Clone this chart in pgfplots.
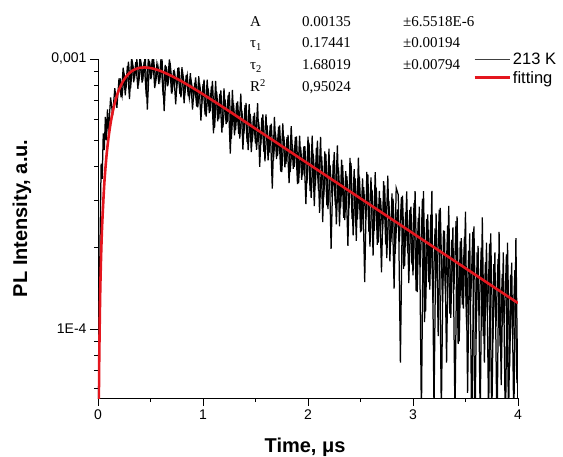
\documentclass[border=0pt]{standalone}
\usepackage{pgfplots}
\pgfplotsset{compat=1.18}
\usepackage{fontspec}
\setmainfont{Liberation Sans}
\newfontfamily\serifT{Liberation Serif}
\definecolor{fitred}{RGB}{228,22,30}

% PL decay at 213 K (time in us, intensity in a.u.)
\pgfplotstableread{
t I
0.00 3.0e-5
0.01 1.00e-4
0.02 2.20e-4
0.03 4.10e-4
0.04 3.60e-4
0.05 5.30e-4
0.06 4.60e-4
0.07 6.10e-4
0.08 5.00e-4
0.09 6.50e-4
0.10 5.40e-4
0.12 7.20e-4
0.14 6.20e-4
0.16 7.80e-4
0.18 6.60e-4
0.20 8.47e-4
0.22 7.22e-4
0.24 9.29e-4
0.26 7.33e-4
0.28 9.41e-4
0.30 7.10e-4
0.32 1.018e-3
0.34 8.20e-4
0.36 9.74e-4
0.38 7.76e-4
0.40 1.021e-3
0.42 8.18e-4
0.44 9.77e-4
0.46 7.26e-4
0.48 1.012e-3
0.50 8.43e-4
0.52 1.033e-3
0.54 7.80e-4
0.56 9.50e-4
0.58 8.08e-4
0.60 1.001e-3
0.62 7.34e-4
0.64 9.50e-4
0.66 7.93e-4
0.68 9.96e-4
0.70 7.45e-4
0.72 9.09e-4
0.74 6.80e-4
0.76 9.26e-4
0.78 7.42e-4
0.80 9.32e-4
0.82 6.86e-4
0.84 8.73e-4
0.86 7.28e-4
0.88 8.86e-4
0.90 6.50e-4
0.92 8.13e-4
0.94 6.66e-4
0.96 8.63e-4
0.98 5.91e-4
1.00 8.07e-4
1.02 6.22e-4
1.04 8.39e-4
1.06 6.30e-4
1.08 7.92e-4
1.10 5.31e-4
1.12 8.29e-4
1.14 5.88e-4
1.16 7.43e-4
1.18 5.34e-4
1.20 7.79e-4
1.22 5.74e-4
1.24 7.35e-4
1.26 4.46e-4
1.28 7.68e-4
1.30 5.22e-4
1.32 6.88e-4
1.34 5.28e-4
1.36 7.44e-4
1.38 4.62e-4
1.40 6.74e-4
1.42 4.92e-4
1.44 6.81e-4
1.46 4.52e-4
1.48 6.14e-4
1.50 4.86e-4
1.52 6.87e-4
1.54 3.99e-4
1.56 6.07e-4
1.58 4.53e-4
1.60 6.24e-4
1.62 4.21e-4
1.64 5.69e-4
1.66 3.31e-4
1.68 6.10e-4
1.70 4.26e-4
1.72 5.62e-4
1.74 3.83e-4
1.76 5.77e-4
1.78 3.97e-4
1.80 5.13e-4
1.82 3.47e-4
1.84 5.64e-4
1.86 3.92e-4
1.88 5.15e-4
1.90 3.44e-4
1.92 5.20e-4
1.94 3.57e-4
1.96 4.74e-4
1.98 2.90e-4
2.00 5.16e-4
2.02 3.24e-4
2.04 5.20e-4
2.06 2.85e-4
2.08 4.69e-4
2.10 3.24e-4
2.12 5.15e-4
2.14 2.49e-4
2.16 4.55e-4
2.18 2.87e-4
2.20 4.66e-4
2.22 1.98e-4
2.24 4.19e-4
2.26 2.88e-4
2.28 4.79e-4
2.30 2.40e-4
2.32 4.24e-4
2.34 2.58e-4
2.36 3.84e-4
2.38 2.03e-4
2.40 4.30e-4
2.42 2.55e-4
2.44 3.91e-4
2.46 2.12e-4
2.48 4.31e-4
2.50 2.28e-4
2.52 3.61e-4
2.54 1.49e-4
2.56 3.82e-4
2.58 2.29e-4
2.60 3.64e-4
2.62 1.87e-4
2.64 3.81e-4
2.66 2.05e-4
2.68 3.25e-4
2.70 1.62e-4
2.72 3.53e-4
2.74 2.06e-4
2.76 3.70e-4
2.78 1.78e-4
2.80 3.18e-4
2.82 1.41e-4
2.84 3.33e-4
2.86 3.14e-4
2.88 0.75e-4
2.90 3.12e-4
2.92 1.71e-4
2.94 3.23e-4
2.96 1.48e-4
2.98 2.84e-4
3.00 1.58e-4
3.02 3.24e-4
3.04 1.37e-4
3.06 2.84e-4
3.08 0.47e-4
3.10 3.24e-4
3.12 1.16e-4
3.14 2.66e-4
3.16 1.40e-4
3.18 3.25e-4
3.20 0.50e-4
3.22 2.68e-4
3.24 0.94e-4
3.26 2.81e-4
3.28 1.26e-4
3.30 2.31e-4
3.32 0.75e-4
3.34 2.86e-4
3.36 1.10e-4
3.38 2.38e-4
3.40 0.46e-4
3.42 2.61e-4
3.44 0.90e-4
3.46 2.17e-4
3.48 1.19e-4
3.50 2.72e-4
3.52 0.58e-4
3.54 2.26e-4
3.56 0.39e-4
3.58 2.40e-4
3.60 0.92e-4
3.62 2.03e-4
3.64 0.46e-4
3.66 2.59e-4
3.68 0.75e-4
3.70 2.09e-4
3.72 0.47e-4
3.74 2.26e-4
3.76 0.89e-4
3.78 1.92e-4
3.80 0.39e-4
3.82 2.29e-4
3.84 0.62e-4
3.86 1.92e-4
3.88 0.40e-4
3.90 2.09e-4
3.92 0.72e-4
3.94 1.76e-4
3.96 0.45e-4
3.98 2.17e-4
4.00 0.50e-4
}\decay

% the samples in between (same record, odd channels)
\pgfplotstableread{
t I
0.21 8.49e-4
0.23 7.34e-4
0.25 8.75e-4
0.27 8.02e-4
0.29 9.77e-4
0.31 7.78e-4
0.33 9.60e-4
0.35 8.60e-4
0.37 9.95e-4
0.39 8.33e-4
0.41 9.66e-4
0.43 8.65e-4
0.45 1.033e-3
0.47 6.50e-4
0.49 9.83e-4
0.51 8.69e-4
0.53 9.94e-4
0.55 8.24e-4
0.57 9.46e-4
0.59 8.42e-4
0.61 9.97e-4
0.63 6.42e-4
0.65 9.38e-4
0.67 8.24e-4
0.69 9.40e-4
0.71 7.76e-4
0.73 8.88e-4
0.75 7.87e-4
0.77 9.30e-4
0.79 7.21e-4
0.81 8.70e-4
0.83 7.63e-4
0.85 8.68e-4
0.87 7.16e-4
0.89 8.18e-4
0.91 7.24e-4
0.93 8.55e-4
0.95 6.62e-4
0.97 7.98e-4
0.99 7.00e-4
1.01 8.39e-4
1.03 6.12e-4
1.05 7.78e-4
1.07 6.40e-4
1.09 8.30e-4
1.11 5.56e-4
1.13 7.56e-4
1.15 5.98e-4
1.17 7.65e-4
1.19 5.58e-4
1.21 7.08e-4
1.23 5.83e-4
1.25 7.56e-4
1.27 5.06e-4
1.29 6.88e-4
1.31 5.44e-4
1.33 6.97e-4
1.35 5.07e-4
1.37 6.44e-4
1.39 5.30e-4
1.41 6.87e-4
1.43 4.60e-4
1.45 6.26e-4
1.47 4.95e-4
1.49 6.33e-4
1.51 4.61e-4
1.53 5.85e-4
1.55 4.82e-4
1.57 6.24e-4
1.59 4.18e-4
1.61 5.69e-4
1.63 4.50e-4
1.65 5.76e-4
1.67 4.19e-4
1.69 5.32e-4
1.71 4.38e-4
1.73 5.68e-4
1.75 3.81e-4
1.77 5.17e-4
1.79 4.09e-4
1.81 5.23e-4
1.83 3.81e-4
1.85 4.84e-4
1.87 3.99e-4
1.89 5.17e-4
1.91 3.46e-4
1.93 4.70e-4
1.95 3.71e-4
1.97 4.75e-4
1.99 3.46e-4
2.01 4.90e-4
2.03 3.06e-4
2.05 4.46e-4
2.07 3.38e-4
2.09 4.98e-4
2.11 2.69e-4
2.13 4.36e-4
2.15 3.08e-4
2.17 4.45e-4
2.19 2.78e-4
2.21 4.05e-4
2.23 3.08e-4
2.25 4.52e-4
2.27 2.44e-4
2.29 3.97e-4
2.31 2.80e-4
2.33 4.04e-4
2.35 2.53e-4
2.37 3.68e-4
2.39 2.80e-4
2.41 4.11e-4
2.43 2.22e-4
2.45 3.61e-4
2.47 2.54e-4
2.49 3.67e-4
2.51 2.30e-4
2.53 3.35e-4
2.55 2.55e-4
2.57 3.74e-4
2.59 2.02e-4
2.61 3.28e-4
2.63 2.31e-4
2.65 3.34e-4
2.67 2.09e-4
2.69 3.05e-4
2.71 2.31e-4
2.73 3.40e-4
2.75 1.83e-4
2.77 2.98e-4
2.79 2.10e-4
2.81 3.04e-4
2.83 1.90e-4
2.85 2.77e-4
2.87 2.10e-4
2.89 3.08e-4
2.91 1.67e-4
2.93 2.71e-4
2.95 1.91e-4
2.97 2.76e-4
2.99 1.73e-4
3.01 2.93e-4
3.03 1.38e-4
3.05 2.58e-4
3.07 1.69e-4
3.09 3.04e-4
3.11 1.06e-4
3.13 2.55e-4
3.15 1.49e-4
3.17 2.65e-4
3.19 1.25e-4
3.21 2.36e-4
3.23 1.54e-4
3.25 2.77e-4
3.27 0.48e-4
3.29 2.32e-4
3.31 1.35e-4
3.33 2.42e-4
3.35 1.14e-4
3.37 2.14e-4
3.39 1.40e-4
3.41 2.51e-4
3.43 0.88e-4
3.45 2.11e-4
3.47 1.23e-4
3.49 2.20e-4
3.51 1.04e-4
3.53 1.95e-4
3.55 1.27e-4
3.57 2.29e-4
3.59 0.40e-4
3.61 1.92e-4
3.63 1.12e-4
3.65 2.00e-4
3.67 0.94e-4
3.69 1.77e-4
3.71 1.15e-4
3.73 2.07e-4
3.75 0.44e-4
3.77 1.74e-4
3.79 1.02e-4
3.81 1.82e-4
3.83 0.86e-4
3.85 1.60e-4
3.87 1.05e-4
3.89 1.89e-4
3.91 0.46e-4
3.93 1.59e-4
3.95 0.92e-4
3.97 1.65e-4
3.99 0.63e-4
}\decayodd

% fitted curve, A = 0.00135, tau1 = 0.17441, tau2 = 1.68019
\pgfplotstableread{
t I
0.005 3.41e-5
0.01 6.72e-5
0.02 1.303e-4
0.03 1.894e-4
0.04 2.449e-4
0.06 3.456e-4
0.08 4.339e-4
0.10 5.111e-4
0.12 5.785e-4
0.14 6.371e-4
0.16 6.880e-4
0.18 7.319e-4
0.20 7.697e-4
0.24 8.294e-4
0.28 8.717e-4
0.32 9.005e-4
0.36 9.184e-4
0.40 9.279e-4
0.44 9.308e-4
0.48 9.285e-4
0.52 9.223e-4
0.56 9.131e-4
0.60 9.015e-4
0.70 8.658e-4
0.80 8.250e-4
0.90 7.826e-4
1.00 7.403e-4
1.20 6.598e-4
1.40 5.858e-4
1.60 5.201e-4
1.80 4.618e-4
2.00 4.099e-4
2.20 3.639e-4
2.40 3.231e-4
2.60 2.869e-4
2.80 2.547e-4
3.00 2.261e-4
3.20 2.007e-4
3.40 1.782e-4
3.60 1.582e-4
3.80 1.404e-4
4.00 1.247e-4
}\fit

\begin{document}
\begin{tikzpicture}
\path[use as bounding box] (0,0) rectangle (563pt,457pt);
\begin{axis}[
    at={(98pt,59pt)}, anchor=south west,
    scale only axis,
    width=420pt, height=339pt,
    ymode=log,
    xmin=0, xmax=4,
    ymin=5.55e-5, ymax=1e-3,
    axis lines*=left,
    axis line style={black, line width=0.8pt},
    tick align=outside,
    major tick length=8pt, minor tick length=4pt,
    tick style={black, line width=0.8pt},
    xtick={0,1,2,3,4}, xticklabels={0,1,2,3,4},
    minor xtick={0.5,1.5,2.5,3.5},
    ytick={1e-4,1e-3}, yticklabels={1E-4,{0,001}},
    minor ytick={6e-5,7e-5,8e-5,9e-5,2e-4,3e-4,4e-4,5e-4,6e-4,7e-4,8e-4,9e-4},
    ticklabel style={font=\fontsize{14}{16}\selectfont},
    xlabel={Time, μs},
    ylabel={PL Intensity, a.u.},
    label style={font=\fontsize{20}{24}\selectfont\bfseries},
    xlabel style={at={(axis description cs:0.493,-0.162)}, anchor=base},
    ylabel style={at={(axis description cs:-0.169,0.53)}, anchor=base},
    legend style={at={(axis description cs:0.886,1.03)}, anchor=north west,
        draw=none, fill=none, font=\fontsize{16.5}{18}\selectfont,
        row sep=1pt, nodes={inner sep=2pt}},
    legend cell align=left,
    legend image code/.code={\draw[#1] (0pt,0pt) -- (35pt,0pt);},
]
\addplot[black, line width=1.25pt, forget plot] table[x=t, y=I] {\decay};
\addplot[black, line width=1.25pt, forget plot] table[x=t, y=I] {\decayodd};
\addlegendimage{black!75, line width=0.5pt}
\addlegendentry{213 K}
\addplot[fitred, line width=2.6pt, smooth] table[x=t, y=I] {\fit};
\addlegendentry{fitting}
\end{axis}
\begin{scope}[every node/.style={anchor=base west, inner sep=0pt, font=\serifT\fontsize{15}{18}\selectfont}]
\node at (250pt,430pt) {A};
\node at (302pt,430pt) {0.00135};
\node at (403pt,430pt) {±6.5518E-6};
\node at (250pt,409pt) {τ\textsubscript{1}};
\node at (302pt,409pt) {0.17441};
\node at (403pt,409pt) {±0.00194};
\node at (250pt,387pt) {τ\textsubscript{2}};
\node at (302pt,387pt) {1.68019};
\node at (403pt,387pt) {±0.00794};
\node at (250pt,365pt) {R\textsuperscript{2}};
\node at (302pt,365pt) {0,95024};
\end{scope}
\end{tikzpicture}
\end{document}
